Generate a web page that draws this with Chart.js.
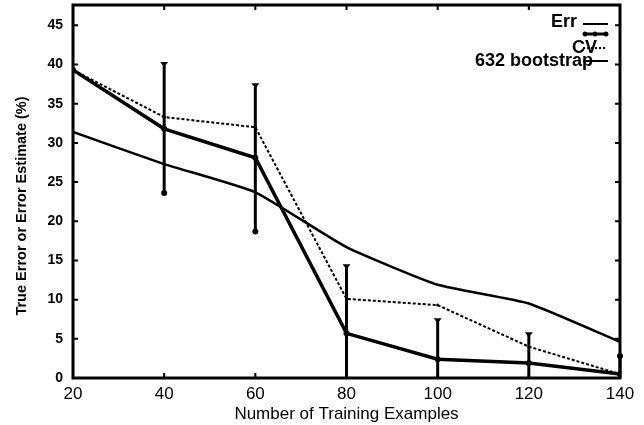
<!DOCTYPE html>
<html>
<head>
<meta charset="utf-8">
<script src="https://cdn.jsdelivr.net/npm/chart.js@4.4.1/dist/chart.umd.min.js"></script>
<style>
  html, body { margin: 0; padding: 0; background: #fff; }
  #wrap { width: 644px; height: 425px; position: relative; }
</style>
</head>
<body>
<div id="wrap"><canvas id="chart"></canvas></div>
<script>
const trainingSizes = [20, 40, 60, 80, 100, 120, 140];
const xTicks = [20, 40, 60, 80, 100, 120, 140];
const yTicks = [0, 5, 10, 15, 20, 25, 30, 35, 40, 45];

const errValues = [31.4, 27.3, 23.7, 16.7, 11.9, 9.5, 4.6];
const cvValues = [39.3, 31.8, 28.1, 5.7, 2.4, 1.9, 0.5];
const cvLow = [null, 23.6, 18.7, 0, 0, 0, 0];
const cvHigh = [null, 40.2, 37.5, 14.4, 7.5, 5.7, 2.8];
const bootValues = [39.3, 33.3, 32.0, 10.1, 9.3, 4.0, 0.5];

const legendLabels = ["Err", "CV", "632 bootstrap"];
const yTitle = "True Error or Error Estimate (%)";

// error bars on the CV series
const errorBars = {
  id: "errorBars",
  afterDatasetsDraw(chart) {
    const { ctx, chartArea: a, scales: { x, y } } = chart;
    ctx.save();
    ctx.strokeStyle = "#000";
    ctx.fillStyle = "#000";
    ctx.lineWidth = 3;
    trainingSizes.forEach((t, i) => {
      if (cvHigh[i] == null) return;
      const px = x.getPixelForValue(t);
      const top = y.getPixelForValue(cvHigh[i]);
      const bot = y.getPixelForValue(cvLow[i]);
      ctx.beginPath();
      ctx.moveTo(px, top);
      ctx.lineTo(px, bot);
      ctx.stroke();
      if (px >= a.right - 1) {
        ctx.beginPath();
        ctx.arc(px, top, 3, 0, Math.PI * 2);
        ctx.fill();
        return;
      }
      // little triangle cap
      ctx.beginPath();
      ctx.moveTo(px - 4, top - 1);
      ctx.lineTo(px + 4, top - 1);
      ctx.lineTo(px, top + 4);
      ctx.closePath();
      ctx.fill();
      if (cvLow[i] > 0) {
        ctx.beginPath();
        ctx.arc(px, bot, 3, 0, Math.PI * 2);
        ctx.fill();
      }
    });
    ctx.restore();
  }
};

// box around the plot with inward ticks, plus the y title
const frame = {
  id: "frame",
  afterDraw(chart) {
    const { ctx, chartArea: a, scales: { x, y } } = chart;
    ctx.save();
    ctx.strokeStyle = "#000";
    ctx.lineWidth = 3;
    ctx.strokeRect(a.left, a.top, a.right - a.left, a.bottom - a.top);
    ctx.lineWidth = 2;
    ctx.beginPath();
    yTicks.forEach(v => {
      const py = y.getPixelForValue(v);
      ctx.moveTo(a.left, py); ctx.lineTo(a.left + 5, py);
      ctx.moveTo(a.right, py); ctx.lineTo(a.right - 5, py);
    });
    xTicks.forEach(v => {
      const px = x.getPixelForValue(v);
      ctx.moveTo(px, a.bottom); ctx.lineTo(px, a.bottom - 5);
      ctx.moveTo(px, a.top); ctx.lineTo(px, a.top + 5);
    });
    ctx.stroke();

    // y title sits a bit below the middle in the original
    ctx.translate(22, 206);
    ctx.rotate(-Math.PI / 2);
    ctx.fillStyle = "#000";
    ctx.font = "bold 14.5px 'Liberation Sans', Arial, sans-serif";
    ctx.textAlign = "center";
    ctx.textBaseline = "middle";
    ctx.fillText(yTitle, 0, 0);
    ctx.restore();
  }
};

// hand-placed legend in the top right corner
const cornerLegend = {
  id: "cornerLegend",
  afterDraw(chart) {
    const { ctx, chartArea: a } = chart;
    const r = a.right;
    ctx.save();
    ctx.fillStyle = "#000";
    ctx.font = "bold 18px 'Liberation Sans', Arial, sans-serif";
    ctx.textAlign = "right";
    ctx.textBaseline = "middle";
    ctx.fillText(legendLabels[0], r - 43, a.top + 17);
    ctx.fillText(legendLabels[1], r - 23, a.top + 43);
    ctx.fillText(legendLabels[2], r - 27, a.top + 56);

    ctx.strokeStyle = "#000";
    const x0 = r - 37, x1 = r - 12;
    ctx.lineWidth = 2;
    ctx.beginPath(); ctx.moveTo(x0, a.top + 19); ctx.lineTo(x1, a.top + 19); ctx.stroke();
    ctx.lineWidth = 3;
    ctx.beginPath(); ctx.moveTo(x0, a.top + 29); ctx.lineTo(x1, a.top + 29); ctx.stroke();
    [x0 + 2, x0 + 12, x1 - 2].forEach(px => {
      ctx.beginPath(); ctx.arc(px, a.top + 29, 2.5, 0, Math.PI * 2); ctx.fill();
    });
    ctx.lineWidth = 2;
    ctx.setLineDash([2, 2]);
    ctx.beginPath(); ctx.moveTo(x0, a.top + 43); ctx.lineTo(x1 - 2, a.top + 43); ctx.stroke();
    ctx.setLineDash([]);
    ctx.beginPath(); ctx.moveTo(x0, a.top + 56); ctx.lineTo(x1, a.top + 56); ctx.stroke();
    ctx.restore();
  }
};

const ctx = document.getElementById("chart").getContext("2d");
new Chart(ctx, {
  type: "line",
  data: {
    labels: trainingSizes,
    datasets: [
      {
        label: legendLabels[0],
        data: trainingSizes.map((t, i) => ({ x: t, y: errValues[i] })),
        borderColor: "#000",
        borderWidth: 2.5,
        pointRadius: 0,
        tension: 0.15,
      },
      {
        label: legendLabels[1],
        data: trainingSizes.map((t, i) => ({ x: t, y: cvValues[i] })),
        borderColor: "#000",
        backgroundColor: "#000",
        borderWidth: 3.5,
        pointRadius: 3,
        pointBorderWidth: 0,
        tension: 0,
      },
      {
        label: legendLabels[2],
        data: trainingSizes.map((t, i) => ({ x: t, y: bootValues[i] })),
        borderColor: "#000",
        backgroundColor: "#000",
        borderWidth: 2,
        borderDash: [3, 2],
        pointRadius: 1.5,
        pointBorderWidth: 0,
        tension: 0,
      },
    ],
  },
  options: {
    responsive: true,
    maintainAspectRatio: false,
    animation: false,
    layout: { padding: { top: 5, right: 24, left: 0, bottom: 0 } },
    plugins: {
      legend: { display: false },
      tooltip: { enabled: false },
    },
    scales: {
      x: {
        type: "linear",
        min: 20,
        max: 140,
        afterBuildTicks: (s) => { s.ticks = xTicks.map(v => ({ value: v })); },
        afterFit: (s) => { s.height = 47; s.paddingLeft = 0; s.paddingRight = 0; },
        grid: { display: false, drawTicks: false },
        border: { display: false },
        ticks: {
          color: "#000",
          padding: 6,
          maxRotation: 0,
          font: { family: "'Liberation Sans', Arial, sans-serif", size: 17 },
        },
        title: {
          display: true,
          text: "Number of Training Examples",
          color: "#000",
          padding: { top: 3, bottom: 0 },
          font: { family: "'Liberation Sans', Arial, sans-serif", size: 17 },
        },
      },
      y: {
        min: 0,
        max: 47.6,
        afterBuildTicks: (s) => { s.ticks = yTicks.map(v => ({ value: v })); },
        afterFit: (s) => { s.width = 73; s.paddingTop = 0; s.paddingBottom = 0; },
        grid: { display: false, drawTicks: false },
        border: { display: false },
        ticks: {
          color: "#000",
          padding: 10,
          font: { family: "'Liberation Sans', Arial, sans-serif", size: 14, weight: "bold" },
        },
      },
    },
  },
  plugins: [errorBars, frame, cornerLegend],
});
</script>
</body>
</html>
